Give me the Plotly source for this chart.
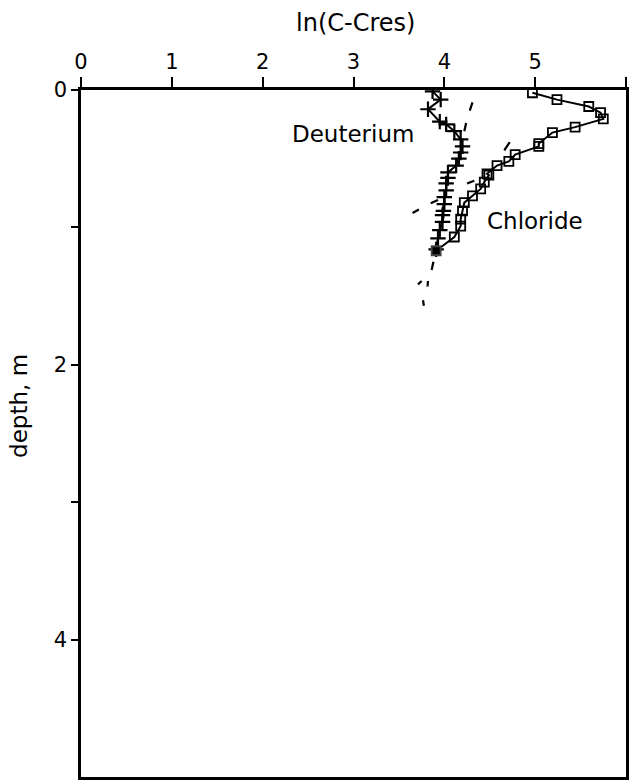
import plotly.graph_objects as go

# Measured profiles: ln(C - Cres) against depth (m)
deut_ln = [3.87, 3.96, 3.82, 3.95, 4.02, 4.11, 4.18, 4.20, 4.18, 4.16, 4.13, 4.04,
           4.04, 4.02, 4.02, 4.00, 4.00, 3.99, 3.98, 3.98, 3.95, 3.93, 3.91]
deut_depth = [0.01, 0.07, 0.14, 0.23, 0.25, 0.30, 0.36, 0.41, 0.455, 0.50, 0.55, 0.60,
              0.64, 0.68, 0.73, 0.78, 0.83, 0.88, 0.91, 0.96, 1.02, 1.08, 1.16]

chl_ln = [4.97, 5.24, 5.59, 5.72, 5.75, 5.44, 5.19, 5.04, 5.04, 4.78, 4.71, 4.58, 4.47,
          4.49, 4.44, 4.40, 4.31, 4.22, 4.20, 4.18, 4.18, 4.11, 3.91]
chl_depth = [0.02, 0.07, 0.12, 0.165, 0.21, 0.27, 0.31, 0.39, 0.41, 0.47, 0.52, 0.55, 0.61,
             0.62, 0.67, 0.72, 0.77, 0.82, 0.88, 0.94, 0.99, 1.07, 1.17]

# Model curves, drawn as sparse dashes (None separates the dash pieces)
model_ln = [4.28, 4.31, None, 4.22, 4.24, None, 4.66, 4.72, None, 4.25, 4.33, None,
            3.85, 3.93, None, 3.65, 3.72, None, 3.86, 3.88, None, 3.71, 3.75, None,
            3.82, 3.815, None, 3.765, 3.775]
model_depth = [0.15, 0.09, None, 0.30, 0.24, None, 0.44, 0.38, None, 0.68, 0.66, None,
               0.825, 0.80, None, 0.895, 0.87, None, 1.31, 1.25, None, 1.415, 1.39, None,
               1.39, 1.43, None, 1.53, 1.57]

x_ticks = [0, 1, 2, 3, 4, 5, 6]
y_ticks = [0, 1, 2, 3, 4]
y_ticktext = ["0", "", "2", "", "4"]

FONT = "DejaVu Sans"

fig = go.Figure()

fig.add_trace(go.Scatter(
    x=model_ln, y=model_depth, mode="lines", connectgaps=False,
    line=dict(color="black", width=2.2), showlegend=False))

fig.add_trace(go.Scatter(
    x=deut_ln, y=deut_depth, mode="lines+markers",
    line=dict(color="black", width=2),
    marker=dict(symbol="cross-thin", size=11, line=dict(color="black", width=2.2)),
    showlegend=False))

chl_symbols = ["square-open"] * (len(chl_ln) - 1) + ["square"]
fig.add_trace(go.Scatter(
    x=chl_ln, y=chl_depth, mode="lines+markers",
    line=dict(color="black", width=2),
    marker=dict(symbol=chl_symbols, size=9, color="black", line=dict(width=1.8)),
    showlegend=False))

fig.add_annotation(x=3.69, y=0.32, text="Deuterium", showarrow=False,
                   xanchor="right", yanchor="middle",
                   font=dict(family=FONT, size=23, color="black"))
fig.add_annotation(x=4.45, y=0.95, text="Chloride", showarrow=False,
                   xanchor="left", yanchor="middle",
                   font=dict(family=FONT, size=23, color="black"))

fig.add_annotation(xref="paper", yref="paper", x=0.503, y=1.097,
                   text="ln(C-Cres)", showarrow=False,
                   xanchor="center", yanchor="middle",
                   font=dict(family=FONT, size=24, color="black"))
fig.add_annotation(xref="paper", yref="paper", x=-0.114, y=0.54,
                   text="depth, m", showarrow=False, textangle=-90,
                   xanchor="center", yanchor="middle",
                   font=dict(family=FONT, size=23, color="black"))

fig.update_xaxes(range=[0, 6], side="top", tickvals=x_ticks,
                 ticks="outside", ticklen=10, tickwidth=2, tickcolor="black",
                 showline=True, linecolor="black", linewidth=2.5, mirror=True,
                 showgrid=False, zeroline=False,
                 tickfont=dict(family=FONT, size=21, color="black"))
fig.update_yaxes(range=[5, 0], tickvals=y_ticks, ticktext=y_ticktext,
                 ticks="outside", ticklen=7, tickwidth=2, tickcolor="black",
                 showline=True, linecolor="black", linewidth=2.5, mirror=True,
                 showgrid=False, zeroline=False,
                 tickfont=dict(family=FONT, size=21, color="black"))

fig.update_layout(
    width=631, height=782,
    margin=dict(l=81, r=2, t=90, b=2),
    plot_bgcolor="white", paper_bgcolor="white",
)

fig.write_html("out.html")
